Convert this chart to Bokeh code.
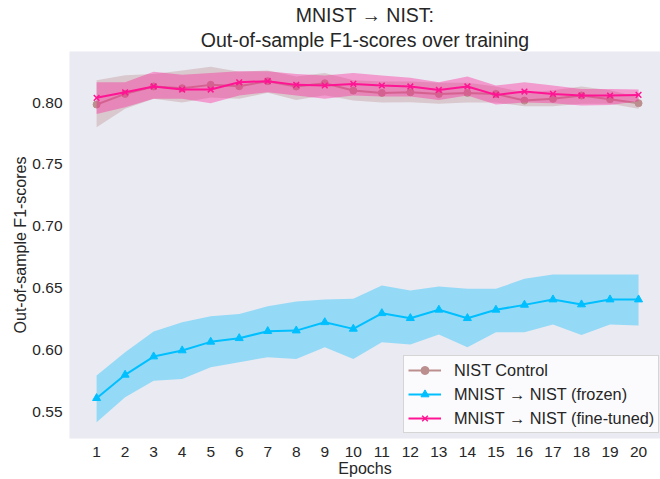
from bokeh.plotting import figure
from bokeh.models import Range1d, FixedTicker, PrintfTickFormatter, Legend, LegendItem, Title
from bokeh.embed import file_html
from bokeh.resources import INLINE

epochs = list(range(1, 21))

control_mean = [0.7984, 0.8070, 0.8130, 0.8116, 0.8143, 0.8132, 0.8173, 0.8130, 0.8156, 0.8097,
                0.8078, 0.8083, 0.8070, 0.8078, 0.8070, 0.8016, 0.8030, 0.8057, 0.8027, 0.7995]
control_upper = [0.8180, 0.8220, 0.8230, 0.8260, 0.8290, 0.8250, 0.8260, 0.8210, 0.8240, 0.8180,
                 0.8170, 0.8170, 0.8160, 0.8160, 0.8130, 0.8080, 0.8100, 0.8130, 0.8100, 0.8043]
control_lower = [0.7800, 0.7950, 0.8030, 0.8000, 0.8040, 0.8030, 0.8080, 0.8020, 0.8060, 0.8016,
                 0.8000, 0.8003, 0.7990, 0.8000, 0.8000, 0.7970, 0.7970, 0.7990, 0.7990, 0.7950]

frozen_mean = [0.5608, 0.5797, 0.5945, 0.5994, 0.6064, 0.6093, 0.6150, 0.6155, 0.6222, 0.6169,
               0.6295, 0.6255, 0.6323, 0.6255, 0.6323, 0.6363, 0.6406, 0.6366, 0.6406, 0.6406]
frozen_upper = [0.5791, 0.5980, 0.6147, 0.6222, 0.6271, 0.6290, 0.6352, 0.6390, 0.6406, 0.6412,
                0.6520, 0.6480, 0.6511, 0.6493, 0.6493, 0.6574, 0.6608, 0.6608, 0.6608, 0.6608]
frozen_lower = [0.5413, 0.5616, 0.5750, 0.5764, 0.5858, 0.5899, 0.5940, 0.5926, 0.6020, 0.5926,
                0.6060, 0.6042, 0.6123, 0.6020, 0.6142, 0.6142, 0.6204, 0.6120, 0.6204, 0.6196]

finetuned_mean = [0.8038, 0.8083, 0.8130, 0.8105, 0.8105, 0.8164, 0.8173, 0.8143, 0.8138, 0.8151,
                  0.8138, 0.8130, 0.8102, 0.8130, 0.8062, 0.8089, 0.8070, 0.8057, 0.8057, 0.8062]
finetuned_upper = [0.8164, 0.8164, 0.8250, 0.8224, 0.8240, 0.8253, 0.8253, 0.8230, 0.8218, 0.8240,
                   0.8218, 0.8200, 0.8164, 0.8210, 0.8138, 0.8164, 0.8138, 0.8110, 0.8110, 0.8105]
finetuned_lower = [0.7908, 0.7962, 0.8030, 0.8030, 0.7995, 0.8057, 0.8083, 0.8057, 0.8030, 0.8057,
                   0.8049, 0.8049, 0.8020, 0.8057, 0.7984, 0.8000, 0.7995, 0.7976, 0.7980, 0.8010]

y_ticks = [0.55, 0.60, 0.65, 0.70, 0.75, 0.80]
labels = ["NIST Control", "MNIST \u2192 NIST (frozen)", "MNIST \u2192 NIST (fine-tuned)"]
title_lines = ["MNIST \u2192 NIST:", "Out-of-sample F1-scores over training"]

FONT = "Liberation Sans"
TXT = "#262626"

p = figure(width=660, height=479, output_backend="svg", toolbar_location=None,
           x_range=Range1d(0.05, 20.77), y_range=Range1d(0.5282, 0.8413),
           min_border_left=69, min_border_right=0, min_border_top=51, min_border_bottom=41)

p.background_fill_color = "#eaeaf2"
p.border_fill_color = "white"
p.outline_line_color = None
p.xgrid.visible = False
p.ygrid.visible = False

for ax in (p.xaxis, p.yaxis):
    ax.axis_line_color = None
    ax.major_tick_line_color = None
    ax.minor_tick_line_color = None
    ax.major_tick_out = 0
    ax.major_tick_in = 0
    ax.minor_tick_out = 0
    ax.minor_tick_in = 0
    ax.major_label_text_font = FONT
    ax.major_label_text_font_size = "15.5px"
    ax.major_label_text_color = TXT
    ax.axis_label_text_font = FONT
    ax.axis_label_text_font_size = "16px"
    ax.axis_label_text_color = TXT
    ax.axis_label_text_font_style = "normal"

p.xaxis.ticker = FixedTicker(ticks=epochs)
p.yaxis.ticker = FixedTicker(ticks=y_ticks)
p.yaxis.formatter = PrintfTickFormatter(format="%.2f")
p.xaxis.axis_label = "Epochs"
p.yaxis.axis_label = "Out-of-sample F1-scores"
p.xaxis.major_label_standoff = 8
p.xaxis.axis_label_standoff = 0
p.yaxis.major_label_standoff = 7
p.yaxis.axis_label_standoff = 0

series = [
    (control_mean, control_upper, control_lower, "#bc8f8f", "circle", 7),
    (frozen_mean, frozen_upper, frozen_lower, "#00bfff", "triangle", 8),
    (finetuned_mean, finetuned_upper, finetuned_lower, "#ff1493", "x", 8),
]

items = []
for (m, up, lo, col, mk, sz), lab in zip(series, labels):
    p.varea(x=epochs, y1=lo, y2=up, fill_color=col, fill_alpha=0.37)
    ln = p.line(epochs, m, line_color=col, line_width=2)
    sc = p.scatter(epochs, m, marker=mk, size=sz, fill_color=col, line_color=col,
                   line_width=1.5 if mk == "x" else 1)
    items.append(LegendItem(label=lab, renderers=[ln, sc]))

legend = Legend(items=items, location=(334, 5), margin=0,
                label_text_font=FONT, label_text_font_size="16.3px", label_text_color=TXT,
                glyph_width=33, glyph_height=20, label_standoff=13, padding=4, spacing=4,
                label_height=20, border_line_color="#cccccc", border_line_alpha=0.8,
                background_fill_color="white", background_fill_alpha=0.8)
p.add_layout(legend, "center")

p.add_layout(Title(text=title_lines[1], align="center",
                   text_font=FONT, text_font_size="19.5px", text_color=TXT,
                   text_font_style="normal", standoff=2), "above")
p.add_layout(Title(text=title_lines[0], align="center",
                   text_font=FONT, text_font_size="19.5px", text_color=TXT,
                   text_font_style="normal", standoff=0), "above")

open("out.html", "w").write(file_html(p, INLINE))
